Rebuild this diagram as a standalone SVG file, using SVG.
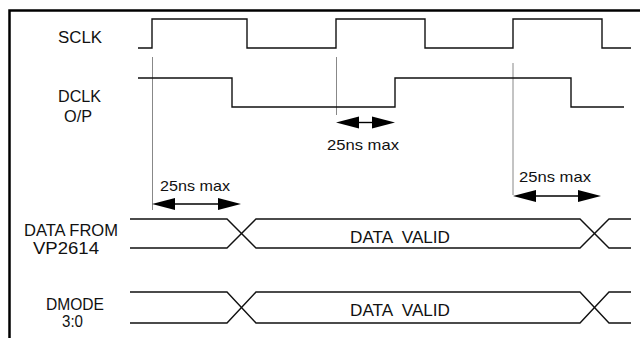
<svg xmlns="http://www.w3.org/2000/svg" width="640" height="338" viewBox="0 0 640 338">
<style>
.sig{fill:none;stroke:#111;stroke-width:1.4;stroke-linejoin:miter}
.guide{fill:none;stroke:#888;stroke-width:1}
.lbl{font-family:"Liberation Sans",Arial,sans-serif;font-size:16px;fill:#111}
.dim{font-family:"Liberation Sans",Arial,sans-serif;font-size:15px;fill:#111}
.head{fill:#000}
.shaft{stroke:#000;stroke-width:1.4}
</style>
<rect width="640" height="338" fill="#fff"/>
<g id="frame">
<path d="M9.5,338 V10.5 H640" fill="none" stroke="#000" stroke-width="2.5"/>
</g>
<g id="labels">
<text class="lbl" x="58" y="43" textLength="44" lengthAdjust="spacingAndGlyphs">SCLK</text>
<text class="lbl" x="58" y="102" textLength="43" lengthAdjust="spacingAndGlyphs">DCLK</text>
<text class="lbl" x="64" y="122" textLength="28" lengthAdjust="spacingAndGlyphs">O/P</text>
<text class="lbl" x="24" y="236" textLength="94" lengthAdjust="spacingAndGlyphs">DATA FROM</text>
<text class="lbl" x="33" y="254" textLength="66" lengthAdjust="spacingAndGlyphs">VP2614</text>
<text class="lbl" x="46" y="310" textLength="58" lengthAdjust="spacingAndGlyphs">DMODE</text>
<text class="lbl" x="62" y="327" textLength="21" lengthAdjust="spacingAndGlyphs">3:0</text>
</g>
<g id="guides">
<line class="guide" x1="152.5" y1="57" x2="152.5" y2="210"/>
<line class="guide" x1="336.5" y1="57" x2="336.5" y2="115"/>
<line class="guide" x1="513" y1="63" x2="513" y2="195"/>
</g>
<g id="sclk">
<path class="sig" d="M138,48 H152 V19 H247 V48 H336 V19 H425 V48 H513 V19 H602 V48 H631"/>
</g>
<g id="dclk">
<path class="sig" d="M138,78 H232 V107 H395 V78 H571 V107 H624"/>
</g>
<g id="data-from">
<path class="sig" d="M130,219 H227 L256,248 H580 L609,219 H631"/>
<path class="sig" d="M130,248 H227 L256,219 H580 L609,248 H631"/>
<text class="lbl" x="350" y="243" textLength="100" lengthAdjust="spacingAndGlyphs" xml:space="preserve">DATA  VALID</text>
</g>
<g id="dmode">
<path class="sig" d="M130,292 H227 L256,323 H580 L609,292 H631"/>
<path class="sig" d="M130,323 H227 L256,292 H580 L609,323 H631"/>
<text class="lbl" x="350" y="316" textLength="100" lengthAdjust="spacingAndGlyphs" xml:space="preserve">DATA  VALID</text>
</g>
<g id="connectors">
<g id="dim1">
<line class="shaft" x1="350" y1="122.5" x2="380" y2="122.5"/>
<polygon class="head" points="336,122.5 359,116.5 359,128.5"/>
<polygon class="head" points="395,122.5 372,116.5 372,128.5"/>
<text class="dim" x="327" y="150" textLength="72" lengthAdjust="spacingAndGlyphs">25ns max</text>
</g>
<g id="dim2">
<line class="shaft" x1="165" y1="204" x2="228" y2="204"/>
<polygon class="head" points="152,204 175,198 175,210"/>
<polygon class="head" points="241,204 218,198 218,210"/>
<text class="dim" x="160" y="191" textLength="70" lengthAdjust="spacingAndGlyphs">25ns max</text>
</g>
<g id="dim3">
<line class="shaft" x1="526" y1="196" x2="588" y2="196"/>
<polygon class="head" points="513,196 536,190 536,202"/>
<polygon class="head" points="601,196 578,190 578,202"/>
<text class="dim" x="519" y="182" textLength="72" lengthAdjust="spacingAndGlyphs">25ns max</text>
</g>
</g>
</svg>
